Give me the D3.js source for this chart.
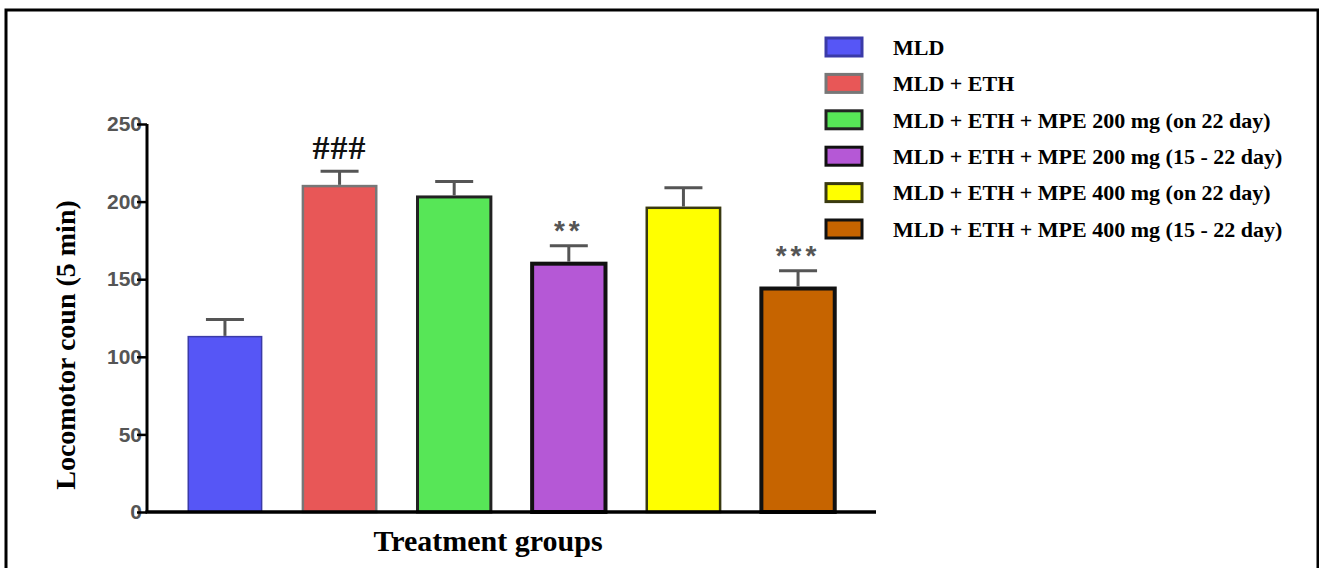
<!DOCTYPE html>
<html>
<head>
<meta charset="utf-8">
<script src="https://cdn.jsdelivr.net/npm/d3@7"></script>
<style>
  body { margin: 0; background: #fff; }
  svg { display: block; }
</style>
</head>
<body>
<div id="chart"></div>
<script>
// data
var groups = [
  "MLD",
  "MLD + ETH",
  "MLD + ETH + MPE 200 mg (on 22 day)",
  "MLD + ETH + MPE 200 mg (15 - 22 day)",
  "MLD + ETH + MPE 400 mg (on 22 day)",
  "MLD + ETH + MPE 400 mg (15 - 22 day)"
]
var means = [113, 210, 203, 160, 196, 144]
var sems = [11, 9.5, 10, 11.5, 13, 11.5]
var marks = ["", "###", "", "**", "", "***"]
var yTicks = [0, 50, 100, 150, 200, 250]

var fills = ["#5656f6", "#e85757", "#57e657", "#b558d6", "#ffff00", "#c66400"]
var strokes = ["#3a3aa8", "#777777", "#222222", "#111111", "#3a3a10", "#111111"]
var strokeW = [1.5, 2.5, 3, 4, 2.5, 4]

var w = 1319, h = 568
var svg = d3.select("#chart").append("svg").attr("width", w).attr("height", h)

// outer frame
svg.append("rect")
  .attr("x", 6).attr("y", 10)
  .attr("width", 1312).attr("height", 620)
  .attr("fill", "none").attr("stroke", "#000").attr("stroke-width", 3)

var x0 = 147, x1 = 876
var yBase = 512, yTop = 124

var xScale = d3.scaleBand().domain(groups).range([x0, x1])
  .paddingInner(0.36).paddingOuter(0.36)
var yScale = d3.scaleLinear().domain([0, 250]).range([yBase, yTop])

// bars
svg.append("g").selectAll("rect").data(groups).join("rect")
  .attr("x", d => xScale(d))
  .attr("width", xScale.bandwidth())
  .attr("y", (d, i) => yScale(means[i]))
  .attr("height", (d, i) => yBase - yScale(means[i]))
  .attr("fill", (d, i) => fills[i])
  .attr("stroke", (d, i) => strokes[i])
  .attr("stroke-width", (d, i) => strokeW[i])

// error bars (upper only)
var err = svg.append("g").attr("stroke", "#555").attr("stroke-width", 3)
groups.forEach(function(g, i) {
  var cx = xScale(g) + xScale.bandwidth() / 2
  var yt = yScale(means[i] + sems[i])
  err.append("line").attr("x1", cx).attr("x2", cx)
    .attr("y1", yScale(means[i]) - strokeW[i] / 2).attr("y2", yt)
  err.append("line").attr("x1", cx - 19).attr("x2", cx + 19)
    .attr("y1", yt).attr("y2", yt)
})

// significance marks
svg.append("g").selectAll("text").data(groups).join("text")
  .attr("x", d => xScale(d) + xScale.bandwidth() / 2)
  .attr("y", (d, i) => yScale(means[i] + sems[i]) - (marks[i] == "###" ? 12 : 6))
  .attr("text-anchor", "middle")
  .attr("font-family", (d, i) => marks[i] == "###" ? "Liberation Serif" : "Liberation Sans")
  .attr("font-weight", "bold")
  .attr("font-size", (d, i) => marks[i] == "###" ? 34 : 28)
  .attr("letter-spacing", (d, i) => marks[i] == "###" ? 1 : 4)
  .attr("fill", (d, i) => marks[i] == "###" ? "#111" : "#555")
  .text((d, i) => marks[i])

// axes
var yAxis = d3.axisLeft(yScale).tickValues(yTicks).tickSize(10).tickPadding(-5)
var yG = svg.append("g").attr("transform", "translate(" + x0 + ",0)").call(yAxis)
yG.select(".domain").attr("stroke", "#000").attr("stroke-width", 3)
  .attr("d", "M0," + yTop + "V" + yBase)
yG.selectAll(".tick line").attr("stroke", "#000").attr("stroke-width", 2.5)
yG.selectAll(".tick text")
  .attr("font-family", "Liberation Sans").attr("font-weight", "bold")
  .attr("font-size", 21).attr("fill", "#555")
yG.selectAll(".tick line").raise()

svg.append("line")
  .attr("x1", x0 - 1.5).attr("x2", x1)
  .attr("y1", yBase).attr("y2", yBase)
  .attr("stroke", "#000").attr("stroke-width", 3.5)

// axis titles
svg.append("text")
  .attr("transform", "translate(75,345) rotate(-90)")
  .attr("text-anchor", "middle")
  .attr("font-family", "Liberation Serif").attr("font-weight", "bold")
  .attr("font-size", 28)
  .text("Locomotor coun (5 min)")

svg.append("text")
  .attr("x", 488).attr("y", 551)
  .attr("text-anchor", "middle")
  .attr("font-family", "Liberation Serif").attr("font-weight", "bold")
  .attr("font-size", 30)
  .text("Treatment groups")

// legend
var legY = d3.scalePoint().domain(groups).range([47, 229])
var leg = svg.append("g").selectAll("g").data(groups).join("g")
  .attr("transform", d => "translate(826," + legY(d) + ")")
leg.append("rect")
  .attr("x", 0).attr("y", -9).attr("width", 36).attr("height", 18)
  .attr("fill", (d, i) => fills[i])
  .attr("stroke", (d, i) => strokes[i])
  .attr("stroke-width", 3)
leg.append("text")
  .attr("x", 67).attr("y", 0).attr("dy", "0.35em")
  .attr("font-family", "Liberation Serif").attr("font-weight", "bold")
  .attr("font-size", 22)
  .text(d => d)
</script>
</body>
</html>
